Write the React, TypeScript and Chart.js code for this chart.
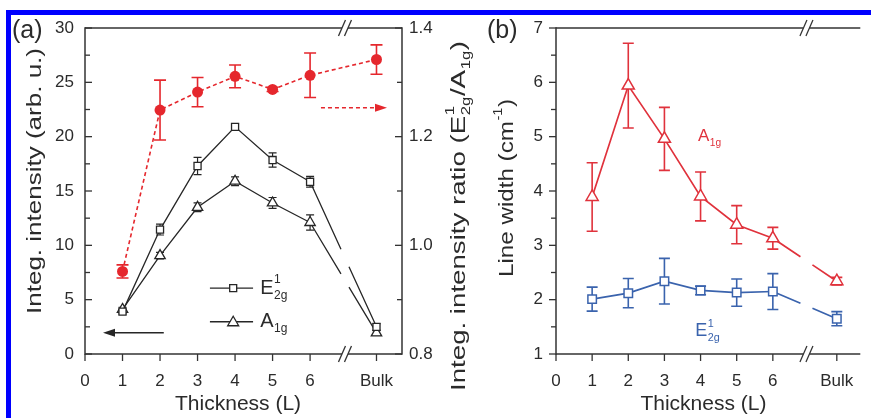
import React, { useEffect, useRef } from 'react';
import { Chart, registerables } from 'chart.js';

Chart.register(...registerables);

// ---------------- data ----------------
const BULK = 7.77;
const X_BREAK = 6.93;
const THICKNESS = [1, 2, 3, 4, 5, 6, BULK];
const X_TICKS = [0, 1, 2, 3, 4, 5, 6, BULK];
const X_TICK_LABELS = ['0', '1', '2', '3', '4', '5', '6', 'Bulk'];

// panel (a): integrated intensity (left axis) and ratio (right axis)
const E2G_INT = [3.9, 11.45, 17.3, 20.9, 17.85, 15.85, 2.5];
const E2G_INT_ERR = [0.2, 0.5, 0.8, 0.3, 0.65, 0.5, 0.3];
const A1G_INT = [4.1, 9.05, 13.5, 15.9, 13.9, 12.1, 1.95];
const A1G_INT_ERR = [0.2, 0.3, 0.4, 0.4, 0.5, 0.7, 0.2];
const RATIO = [0.952, 1.249, 1.282, 1.311, 1.287, 1.313, 1.342];
const RATIO_ERR = [0.012, 0.055, 0.027, 0.021, 0.004, 0.041, 0.027];

const A_LEFT_TICKS = { min: 0, max: 30, step: 5, minor: 2.5 };
const A_RIGHT_TICKS = { min: 0.8, max: 1.4, step: 0.2, minor: 0.1 };

// panel (b): line width
const A1G_WIDTH = [3.89, 5.94, 4.96, 3.9, 3.38, 3.13, 2.34];
const A1G_WIDTH_ERR = [0.63, 0.78, 0.58, 0.45, 0.35, 0.2, 0.07];
const E2G_WIDTH = [2.01, 2.12, 2.34, 2.17, 2.13, 2.15, 1.65];
const E2G_WIDTH_ERR = [0.22, 0.27, 0.42, 0.08, 0.25, 0.33, 0.13];

const B_TICKS = { min: 1, max: 7, step: 1, minor: 0.5 };

// ---------------- styles ----------------
const FONT = '"Liberation Sans", Arial, sans-serif';
const TEXT = '#2b2b2b';
const AXIS = '#333333';
const BLACK = '#262626';
const RED_A = '#e5272d';
const RED_B = '#e0323c';
const BLUE_B = '#3a63ad';
const H = 418;

type Part = { t: string; sup?: string; sub?: string };

function drawRich(
  ctx: CanvasRenderingContext2D,
  parts: Part[],
  x: number,
  y: number,
  o: { size: number; color: string; rotate?: boolean; align?: 'left' | 'center'; length?: number }
) {
  const small = o.size * 0.6;
  const big = `${o.size}px ${FONT}`;
  const sm = `${small}px ${FONT}`;
  let w = 0;
  for (const p of parts) {
    ctx.font = big;
    w += ctx.measureText(p.t).width;
    ctx.font = sm;
    const a = p.sup ? ctx.measureText(p.sup).width : 0;
    const b = p.sub ? ctx.measureText(p.sub).width : 0;
    w += Math.max(a, b) + (p.sup || p.sub ? 1 : 0);
  }
  ctx.save();
  ctx.translate(x, y);
  if (o.rotate) ctx.rotate(-Math.PI / 2);
  if (o.length) ctx.scale(o.length / w, 1);
  ctx.fillStyle = o.color;
  ctx.textBaseline = 'middle';
  ctx.textAlign = 'left';
  let cx = o.align === 'left' ? 0 : -w / 2;
  for (const p of parts) {
    ctx.font = big;
    ctx.fillText(p.t, cx, 0);
    cx += ctx.measureText(p.t).width;
    ctx.font = sm;
    let adv = 0;
    if (p.sup) {
      ctx.fillText(p.sup, cx + 0.5, -o.size * 0.42);
      adv = Math.max(adv, ctx.measureText(p.sup).width);
    }
    if (p.sub) {
      ctx.fillText(p.sub, cx + 0.5, o.size * 0.36);
      adv = Math.max(adv, ctx.measureText(p.sub).width);
    }
    if (p.sup || p.sub) cx += adv + 1;
  }
  ctx.restore();
}

function breakGap(xs: number[], gapPx: number) {
  return (c: any) => {
    const x0 = xs[c.p0DataIndex];
    const x1 = xs[c.p1DataIndex];
    if (!(x0 < X_BREAK && x1 > X_BREAK)) return undefined;
    const dx = c.p1.x - c.p0.x;
    const dy = c.p1.y - c.p0.y;
    const L = Math.hypot(dx, dy);
    const t = (X_BREAK - x0) / (x1 - x0);
    const g = (gapPx * L) / dx;
    return [t * L - g / 2, g, L * 2];
  };
}

const pts = (ys: number[]) => THICKNESS.map((x, i) => ({ x, y: ys[i] }));

const errorBars = {
  id: 'errorBars',
  beforeDatasetsDraw(chart: any) {
    const ctx = chart.ctx as CanvasRenderingContext2D;
    chart.data.datasets.forEach((ds: any, i: number) => {
      if (!ds.errors) return;
      const meta = chart.getDatasetMeta(i);
      const ys = chart.scales[meta.yAxisID];
      ctx.save();
      ctx.strokeStyle = ds.borderColor;
      ctx.lineWidth = ds.errorWidth || 1.4;
      ctx.setLineDash([]);
      meta.data.forEach((pt: any, j: number) => {
        const v = ds.data[j].y;
        const e = ds.errors[j];
        if (!e) return;
        const yt = ys.getPixelForValue(v + e);
        const yb = ys.getPixelForValue(v - e);
        const c = ds.capHalf ?? 5;
        ctx.beginPath();
        ctx.moveTo(pt.x, yt);
        ctx.lineTo(pt.x, yb);
        ctx.moveTo(pt.x - c, yt);
        ctx.lineTo(pt.x + c, yt);
        ctx.moveTo(pt.x - c, yb);
        ctx.lineTo(pt.x + c, yb);
        ctx.stroke();
      });
      ctx.restore();
    });
  },
};

function line(ctx: CanvasRenderingContext2D, x1: number, y1: number, x2: number, y2: number) {
  ctx.beginPath();
  ctx.moveTo(x1, y1);
  ctx.lineTo(x2, y2);
  ctx.stroke();
}

function drawFrame(
  chart: any,
  yId: string,
  yt: { min: number; max: number; step: number; minor: number },
  inward: boolean,
  right?: { id: string; t: { min: number; max: number; step: number; minor: number } }
) {
  const ctx = chart.ctx as CanvasRenderingContext2D;
  const { left, right: r, top, bottom } = chart.chartArea;
  const xs = chart.scales.x;
  ctx.save();
  ctx.strokeStyle = AXIS;
  ctx.lineWidth = 1.5;
  line(ctx, left, top - 0.75, left, bottom + 0.75);
  line(ctx, left, bottom, r, bottom);
  line(ctx, left, top, r, top);
  if (right) line(ctx, r, top - 0.75, r, bottom + 0.75);
  ctx.lineWidth = 1.3;
  for (const v of X_TICKS) {
    const px = xs.getPixelForValue(v);
    line(ctx, px, bottom, px, bottom + 7);
  }
  const ys = chart.scales[yId];
  const dir = inward ? 1 : -1;
  for (let v = yt.min; v <= yt.max + 1e-9; v += yt.minor) {
    const py = ys.getPixelForValue(v);
    const major = Math.abs((v - yt.min) / yt.step - Math.round((v - yt.min) / yt.step)) < 1e-6;
    const len = major ? 7 : 5;
    line(ctx, left, py, left + dir * len, py);
  }
  if (right) {
    const rs = chart.scales[right.id];
    const t = right.t;
    for (let v = t.min; v <= t.max + 1e-9; v += t.minor) {
      const py = rs.getPixelForValue(v);
      const major = Math.abs((v - t.min) / t.step - Math.round((v - t.min) / t.step)) < 1e-6;
      const len = major ? 7 : 5;
      line(ctx, r, py, r - len, py);
    }
  }
  const bx = xs.getPixelForValue(X_BREAK);
  for (const yy of [top, bottom]) {
    ctx.fillStyle = '#ffffff';
    ctx.fillRect(bx - 3, yy - 2, 6, 4);
    for (const off of [-3, 3]) {
      line(ctx, bx + off - 3.5, yy + 8, bx + off + 3.5, yy - 8);
    }
  }
  ctx.restore();
}

function arrow(
  ctx: CanvasRenderingContext2D,
  x1: number,
  x2: number,
  y: number,
  color: string,
  dash: number[],
  width: number
) {
  ctx.save();
  ctx.strokeStyle = color;
  ctx.fillStyle = color;
  ctx.lineWidth = width;
  ctx.setLineDash(dash);
  const d = Math.sign(x2 - x1);
  line(ctx, x1, y, x2 - d * 8, y);
  ctx.setLineDash([]);
  ctx.beginPath();
  ctx.moveTo(x2, y);
  ctx.lineTo(x2 - d * 12, y - 4);
  ctx.lineTo(x2 - d * 12, y + 4);
  ctx.closePath();
  ctx.fill();
  ctx.restore();
}

// annotation positions in data units
const LEGEND_A = { lineFrom: 3.33, lineTo: 4.48, marker: 3.95, text: 4.67, rows: [6.07, 2.97] };
const RIGHT_ARROW = { from: 6.29, to: 8.05, y: 22.66 };
const LEFT_ARROW = { from: 2.1, to: 0.48, y: 1.96 };
const X_TITLE_AT = 4.08;

const decoA = {
  id: 'decoA',
  afterDraw(chart: any) {
    const ctx = chart.ctx as CanvasRenderingContext2D;
    drawFrame(chart, 'y', A_LEFT_TICKS, true, { id: 'y1', t: A_RIGHT_TICKS });
    const xs = chart.scales.x;
    const ys = chart.scales.y;
    drawRich(ctx, [{ t: '(a)' }], 12, 31, { size: 25, color: TEXT, align: 'left' });
    drawRich(ctx, [{ t: 'Integ. intensity (arb. u.)' }], 35, 181, {
      size: 20,
      color: TEXT,
      rotate: true,
      length: 266,
    });
    drawRich(
      ctx,
      [{ t: 'Integ. intensity ratio (E', sup: '1', sub: '2g' }, { t: '/A', sub: '1g' }, { t: ')' }],
      459,
      216,
      { size: 21, color: TEXT, rotate: true, length: 350 }
    );
    drawRich(ctx, [{ t: 'Thickness (L)' }], xs.getPixelForValue(X_TITLE_AT), 404, { size: 21, color: TEXT });
    ctx.save();
    ctx.strokeStyle = BLACK;
    ctx.lineWidth = 1.3;
    LEGEND_A.rows.forEach((ry, k) => {
      const py = ys.getPixelForValue(ry);
      line(ctx, xs.getPixelForValue(LEGEND_A.lineFrom), py, xs.getPixelForValue(LEGEND_A.lineTo), py);
      const mx = xs.getPixelForValue(LEGEND_A.marker);
      ctx.fillStyle = '#fff';
      ctx.beginPath();
      if (k === 0) {
        ctx.rect(mx - 3.5, py - 3.5, 7, 7);
      } else {
        ctx.moveTo(mx, py - 5.5);
        ctx.lineTo(mx + 5.5, py + 4);
        ctx.lineTo(mx - 5.5, py + 4);
        ctx.closePath();
      }
      ctx.fill();
      ctx.stroke();
      const parts: Part[] = k === 0 ? [{ t: 'E', sup: '1', sub: '2g' }] : [{ t: 'A', sub: '1g' }];
      drawRich(ctx, parts, xs.getPixelForValue(LEGEND_A.text), py, { size: 20, color: TEXT, align: 'left' });
    });
    ctx.restore();
    arrow(ctx, xs.getPixelForValue(RIGHT_ARROW.from), xs.getPixelForValue(RIGHT_ARROW.to), ys.getPixelForValue(RIGHT_ARROW.y), RED_A, [4, 3], 1.6);
    arrow(ctx, xs.getPixelForValue(LEFT_ARROW.from), xs.getPixelForValue(LEFT_ARROW.to), ys.getPixelForValue(LEFT_ARROW.y), BLACK, [], 1.4);
  },
};

const LABEL_A1G_B = { x: 3.93, y: 5.0 };
const LABEL_E2G_B = { x: 3.85, y: 1.42 };

const decoB = {
  id: 'decoB',
  afterDraw(chart: any) {
    const ctx = chart.ctx as CanvasRenderingContext2D;
    drawFrame(chart, 'y', B_TICKS, false);
    const xs = chart.scales.x;
    const ys = chart.scales.y;
    drawRich(ctx, [{ t: '(b)' }], 7, 31, { size: 25, color: TEXT, align: 'left' });
    drawRich(ctx, [{ t: 'Line width (cm', sup: '-1' }, { t: ')' }], 27, 188, {
      size: 21,
      color: TEXT,
      rotate: true,
      length: 178,
    });
    drawRich(ctx, [{ t: 'Thickness (L)' }], xs.getPixelForValue(X_TITLE_AT), 404, { size: 21, color: TEXT });
    drawRich(ctx, [{ t: 'A', sub: '1g' }], xs.getPixelForValue(LABEL_A1G_B.x), ys.getPixelForValue(LABEL_A1G_B.y), {
      size: 17,
      color: RED_B,
      align: 'left',
    });
    drawRich(ctx, [{ t: 'E', sup: '1', sub: '2g' }], xs.getPixelForValue(LABEL_E2G_B.x), ys.getPixelForValue(LABEL_E2G_B.y), {
      size: 18,
      color: BLUE_B,
      align: 'left',
    });
  },
};

const tickFont = { family: FONT, size: 17 };

function xScale(max: number) {
  return {
    type: 'linear' as const,
    min: 0,
    max,
    afterBuildTicks: (s: any) => {
      s.ticks = X_TICKS.map((v) => ({ value: v }));
    },
    ticks: {
      callback: (v: any) => X_TICK_LABELS[X_TICKS.indexOf(Number(v))] ?? '',
      font: tickFont,
      color: TEXT,
      padding: 17,
      maxRotation: 0,
      autoSkip: false,
    },
    grid: { display: false, drawTicks: false },
    border: { display: false },
    afterFit: (s: any) => {
      s.height = 64;
    },
  };
}

function yScale(t: { min: number; max: number; step: number }, pos: 'left' | 'right', width: number, padding: number, fixed?: number) {
  return {
    type: 'linear' as const,
    position: pos,
    min: t.min,
    max: t.max,
    ticks: {
      stepSize: t.step,
      font: tickFont,
      color: TEXT,
      padding,
      callback: (v: any) => (fixed !== undefined ? Number(v).toFixed(fixed) : String(Math.round(Number(v)))),
    },
    grid: { display: false, drawTicks: false },
    border: { display: false },
    afterFit: (s: any) => {
      s.width = width;
    },
  };
}

function buildA(): any {
  return {
    type: 'line',
    data: {
      datasets: [
        {
          label: 'ratio',
          yAxisID: 'y1',
          data: pts(RATIO),
          errors: RATIO_ERR,
          capHalf: 6,
          errorWidth: 1.6,
          borderColor: RED_A,
          backgroundColor: RED_A,
          borderWidth: 1.6,
          borderDash: [4, 3],
          pointStyle: 'circle',
          pointRadius: 5.5,
          pointBackgroundColor: RED_A,
          pointBorderColor: RED_A,
          pointBorderWidth: 0,
        },
        {
          label: 'E2g',
          yAxisID: 'y',
          data: pts(E2G_INT),
          errors: E2G_INT_ERR,
          capHalf: 4,
          errorWidth: 1.2,
          borderColor: BLACK,
          borderWidth: 1.3,
          pointStyle: 'rect',
          pointRadius: 5,
          pointBackgroundColor: '#ffffff',
          pointBorderColor: BLACK,
          pointBorderWidth: 1.3,
          segment: { borderDash: breakGap(THICKNESS, 8) },
        },
        {
          label: 'A1g',
          yAxisID: 'y',
          data: pts(A1G_INT),
          errors: A1G_INT_ERR,
          capHalf: 4,
          errorWidth: 1.2,
          borderColor: BLACK,
          borderWidth: 1.3,
          pointStyle: 'triangle',
          pointRadius: 6,
          pointBackgroundColor: '#ffffff',
          pointBorderColor: BLACK,
          pointBorderWidth: 1.3,
          segment: { borderDash: breakGap(THICKNESS, 8) },
        },
      ],
    },
    options: {
      responsive: false,
      animation: false,
      layout: { padding: { top: 28, bottom: 0, left: 0, right: 0 } },
      plugins: { legend: { display: false }, tooltip: { enabled: false }, title: { display: false } },
      scales: {
        x: xScale(8.45),
        y: yScale(A_LEFT_TICKS, 'left', 85, 11),
        y1: yScale(A_RIGHT_TICKS, 'right', 78, 7, 1),
      },
    },
    plugins: [errorBars, decoA],
  };
}

function buildB(): any {
  return {
    type: 'line',
    data: {
      datasets: [
        {
          label: 'A1g',
          yAxisID: 'y',
          data: pts(A1G_WIDTH),
          errors: A1G_WIDTH_ERR,
          capHalf: 5.5,
          errorWidth: 1.6,
          borderColor: RED_B,
          borderWidth: 1.7,
          pointStyle: 'triangle',
          pointRadius: 7,
          pointBackgroundColor: '#ffffff',
          pointBorderColor: RED_B,
          pointBorderWidth: 1.5,
          segment: { borderDash: breakGap(THICKNESS, 12) },
        },
        {
          label: 'E2g',
          yAxisID: 'y',
          data: pts(E2G_WIDTH),
          errors: E2G_WIDTH_ERR,
          capHalf: 5.5,
          errorWidth: 1.6,
          borderColor: BLUE_B,
          borderWidth: 1.7,
          pointStyle: 'rect',
          pointRadius: 6,
          pointBackgroundColor: '#ffffff',
          pointBorderColor: BLUE_B,
          pointBorderWidth: 1.5,
          segment: { borderDash: breakGap(THICKNESS, 12) },
        },
      ],
    },
    options: {
      responsive: false,
      animation: false,
      layout: { padding: { top: 28, bottom: 0, left: 0, right: 0 } },
      plugins: { legend: { display: false }, tooltip: { enabled: false }, title: { display: false } },
      scales: {
        x: xScale(8.42),
        y: yScale(B_TICKS, 'left', 76, 13),
      },
    },
    plugins: [errorBars, decoB],
  };
}

function Panel({ left, width, build }: { left: number; width: number; build: () => any }) {
  const ref = useRef<HTMLCanvasElement | null>(null);
  useEffect(() => {
    const chart = new Chart(ref.current as HTMLCanvasElement, build());
    return () => chart.destroy();
  }, []);
  return (
    <canvas
      ref={ref}
      width={width}
      height={H}
      style={{ position: 'absolute', left, top: 0, width, height: H, display: 'block' }}
    />
  );
}

export default function App() {
  return (
    <div
      style={{
        position: 'fixed',
        left: 0,
        top: 0,
        width: 871,
        height: H,
        background: '#ffffff',
        overflow: 'hidden',
      }}
    >
      <Panel left={0} width={480} build={buildA} />
      <Panel left={480} width={391} build={buildB} />
      <div style={{ position: 'absolute', left: 6, top: 10, width: 865, height: 5, background: '#0000ff' }} />
      <div style={{ position: 'absolute', left: 6, top: 10, width: 5, height: H - 10, background: '#0000ff' }} />
    </div>
  );
}
